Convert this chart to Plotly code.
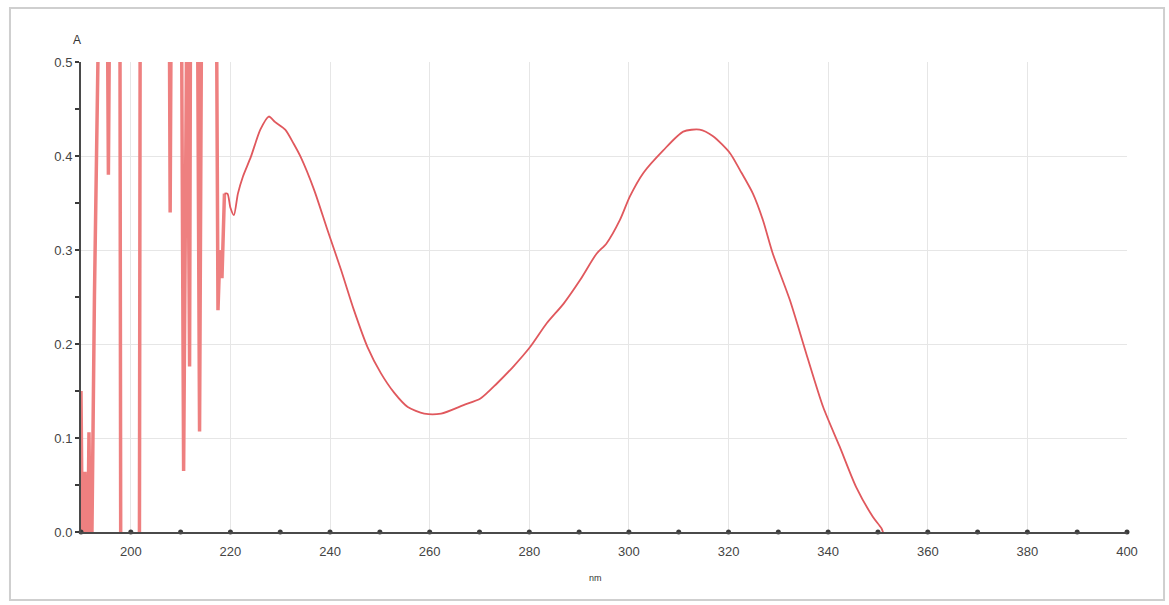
import plotly.graph_objects as go

# Noisy low-wavelength region (values beyond the 0..0.5 scale are clipped by the axes)
noise_nm = [190.0, 190.4, 190.8, 191.2, 191.6, 192.0, 192.7, 193.3, 194.8, 195.5,
            196.3, 197.7, 198.1, 201.6, 202.0, 207.4, 207.9, 208.5, 209.8, 210.6,
            211.3, 211.8, 212.2, 213.0, 213.8, 214.6, 216.8, 217.5, 217.9, 218.3,
            218.8]
noise_A = [0.15, -0.10, 0.064, -0.10, 0.106, -0.10, 0.252, 1.00, 1.00, 0.38,
           1.00, 1.00, -0.50, -0.50, 1.00, 1.00, 0.34, 1.00, 1.00, 0.065,
           0.60, 0.176, 1.00, 1.00, 0.107, 1.00, 1.00, 0.236, 0.30, 0.27,
           0.36]

# Main absorbance curve
curve_nm = [218.8, 219.4, 220.0, 220.7, 221.5, 222.5, 224.1, 226.0, 227.7, 229.0,
            231.0, 232.7, 234.1, 236.8, 239.5, 242.2, 244.8, 247.5, 250.2, 252.9,
            255.6, 258.9, 262.3, 266.8, 270.2, 273.5, 276.8, 280.2, 283.5, 286.9,
            290.2, 293.5, 295.5, 298.2, 300.2, 302.9, 306.9, 310.9, 314.2, 316.9,
            320.3, 322.3, 324.9, 326.9, 328.9, 332.3, 335.6, 339.0, 342.3, 345.6,
            349.0, 350.7, 352.0, 400.0]
curve_A = [0.360, 0.360, 0.345, 0.337, 0.360, 0.378, 0.399, 0.428, 0.442, 0.436,
           0.428, 0.413, 0.399, 0.364, 0.321, 0.279, 0.236, 0.197, 0.169, 0.148,
           0.133, 0.126, 0.126, 0.135, 0.142, 0.158, 0.176, 0.197, 0.222, 0.243,
           0.268, 0.296, 0.307, 0.332, 0.357, 0.382, 0.406, 0.426, 0.428, 0.421,
           0.403, 0.385, 0.360, 0.332, 0.296, 0.247, 0.190, 0.133, 0.091, 0.048,
           0.016, 0.004, -0.010, -0.020]

x_ticks = [200, 220, 240, 260, 280, 300, 320, 340, 360, 380, 400]
x_minor = [190, 200, 210, 220, 230, 240, 250, 260, 270, 280, 290, 300, 310,
           320, 330, 340, 350, 360, 370, 380, 390, 400]
y_ticks = [0.0, 0.1, 0.2, 0.3, 0.4, 0.5]

fig = go.Figure()
fig.add_trace(go.Scatter(x=noise_nm, y=noise_A, mode="lines",
                         line=dict(color="#ee8080", width=3.5),
                         hoverinfo="skip", showlegend=False))
fig.add_trace(go.Scatter(x=curve_nm, y=curve_A, mode="lines",
                         line=dict(color="#e0585d", width=1.8, shape="spline", smoothing=0.7),
                         showlegend=False))
# minor tick dots along the x axis
fig.add_trace(go.Scatter(x=x_minor, y=[0] * len(x_minor), mode="markers",
                         marker=dict(color="#3a3a3a", size=5),
                         cliponaxis=False, hoverinfo="skip", showlegend=False))

fig.update_layout(
    width=1169, height=605,
    margin=dict(l=81, r=42, t=62, b=73),
    paper_bgcolor="white", plot_bgcolor="white",
    font=dict(family="Liberation Sans, Arial, sans-serif", color="#444444", size=13),
)
fig.update_xaxes(
    range=[190, 400], tickmode="array", tickvals=x_ticks,
    ticktext=[str(v) for v in x_ticks],
    showgrid=True, gridcolor="#e6e6e6", gridwidth=1,
    showline=True, linecolor="#4a4a4a", linewidth=2,
    ticks="", zeroline=False, fixedrange=True,
    ticklabelstandoff=6,
)
fig.update_yaxes(
    range=[0, 0.5], tickmode="array", tickvals=y_ticks,
    ticktext=["%.1f" % v for v in y_ticks],
    showgrid=True, gridcolor="#e6e6e6", gridwidth=1,
    showline=True, linecolor="#4a4a4a", linewidth=2,
    ticks="outside", ticklen=4, tickcolor="#3a3a3a", tickwidth=2,
    minor=dict(dtick=0.05, ticks="outside", ticklen=4, tickcolor="#3a3a3a", tickwidth=2, showgrid=False),
    zeroline=False, fixedrange=True,
)
fig.add_annotation(text="A", xref="paper", yref="paper", x=-0.004, y=1.047,
                   xanchor="center", yanchor="middle",
                   showarrow=False, font=dict(size=12, color="#333333"))
fig.add_annotation(text="nm", xref="paper", yref="paper", x=0.492, y=-0.098,
                   xanchor="center", yanchor="middle",
                   showarrow=False, font=dict(size=9, color="#333333"))
fig.add_shape(type="rect", xref="paper", yref="paper",
              x0=-0.0679, x1=1.0354, y0=-0.1447, y1=1.1149,
              line=dict(color="#cfcfcf", width=2), layer="below")

fig.write_html("out.html")
